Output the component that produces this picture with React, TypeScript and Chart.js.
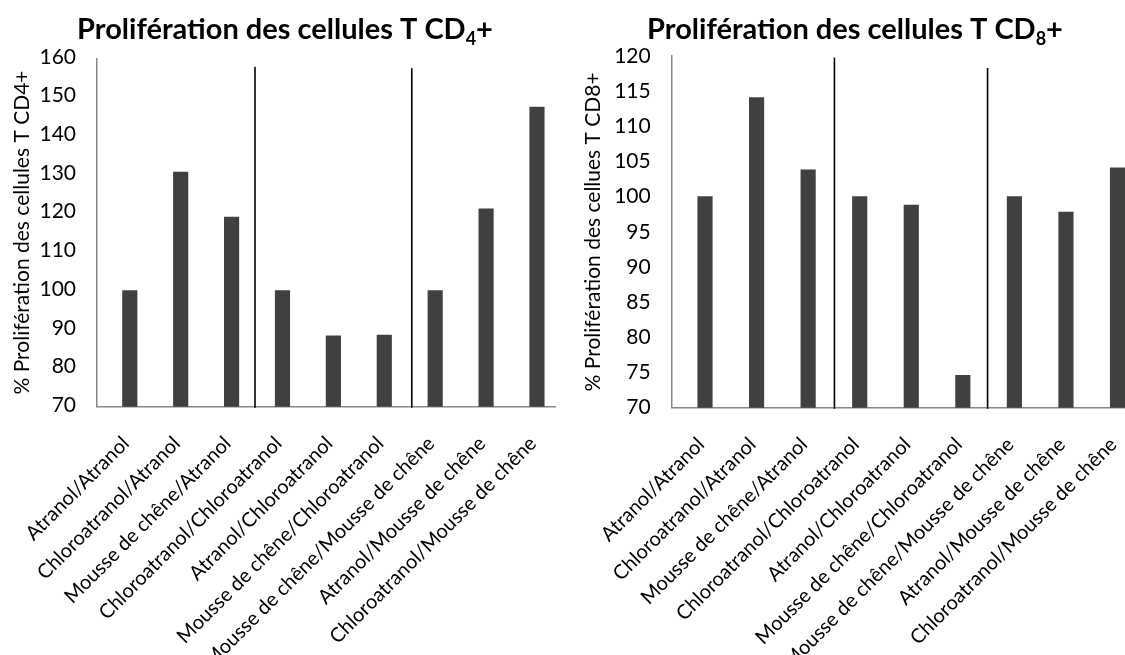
import React, { useEffect, useRef } from "react";
import { Chart, registerables } from "chart.js";
Chart.register(...registerables);

const categories = [
  "Atranol/Atranol",
  "Chloroatranol/Atranol",
  "Mousse de chêne/Atranol",
  "Chloroatranol/Chloroatranol",
  "Atranol/Chloroatranol",
  "Mousse de chêne/Chloroatranol",
  "Mousse de chêne/Mousse de chêne",
  "Atranol/Mousse de chêne",
  "Chloroatranol/Mousse de chêne",
];

const cd4Values = [100, 130.6, 119, 100, 88.3, 88.5, 100, 121.1, 147.4];
const cd8Values = [100, 114.1, 103.8, 100, 98.8, 74.6, 100, 97.8, 104.1];

const cd4YTicks = [70, 80, 90, 100, 110, 120, 130, 140, 150, 160];
const cd8YTicks = [70, 75, 80, 85, 90, 95, 100, 105, 110, 115, 120];

// group separators (category-index position) and the value where each line starts
const cd4Dividers = [2.46, 5.54];
const cd4DividerTops = [157.8, 157.4];
const cd8Dividers = [2.51, 5.48];
const cd8DividerTops = [119.8, 118.3];

const cd4Title = ["Prolifération des cellules T CD", "4", "+"];
const cd8Title = ["Prolifération des cellules T CD", "8", "+"];
const cd4AxisTitle = "% Prolifération des cellules T CD4+";
const cd8AxisTitle = "% Prolifération des cellues T CD8+";

const FONT = "Lato";

const titlePlugin = {
  id: "subTitle",
  afterDraw(chart: any, _args: any, opts: any) {
    const { ctx } = chart;
    ctx.save();
    const mainFont = `bold ${opts.size}px ${FONT}`;
    const subFont = `bold ${Math.round(opts.size * 0.62)}px ${FONT}`;
    ctx.font = mainFont;
    const w1 = ctx.measureText(opts.parts[0]).width;
    const w3 = ctx.measureText(opts.parts[2]).width;
    ctx.font = subFont;
    const w2 = ctx.measureText(opts.parts[1]).width;
    let x = opts.x - (w1 + w2 + w3) / 2;
    ctx.fillStyle = "#000";
    ctx.textAlign = "left";
    ctx.textBaseline = "alphabetic";
    ctx.font = mainFont;
    ctx.fillText(opts.parts[0], x, opts.y);
    x += w1;
    ctx.font = subFont;
    ctx.fillText(opts.parts[1], x, opts.y + opts.size * 0.22);
    x += w2;
    ctx.font = mainFont;
    ctx.fillText(opts.parts[2], x, opts.y);
    ctx.restore();
  },
};

const dividerPlugin = {
  id: "dividers",
  afterDatasetsDraw(chart: any, _args: any, opts: any) {
    const { ctx, scales, chartArea } = chart;
    ctx.save();
    ctx.strokeStyle = "#000";
    ctx.lineWidth = 1.6;
    opts.xs.forEach((v: number, i: number) => {
      const px = scales.x.getPixelForValue(v);
      const top = scales.y.getPixelForValue(opts.tops[i]);
      ctx.beginPath();
      ctx.moveTo(px, top);
      ctx.lineTo(px, chartArea.bottom + 1);
      ctx.stroke();
    });
    ctx.restore();
  },
};

function makeConfig(p: {
  values: number[];
  yTicks: number[];
  dividers: number[];
  dividerTops: number[];
  title: string[];
  axisTitle: string;
  xMin: number;
  xMax: number;
  padLeft: number;
  padRight: number;
  padTop: number;
  yWidth: number;
  xHeight: number;
  titleX: number;
  yLabelShift: number;
}): any {
  const tickFont = { family: FONT, size: 21 };
  return {
    type: "bar",
    data: {
      datasets: [
        {
          data: p.values.map((v, i) => ({ x: i, y: v })),
          backgroundColor: "#404040",
          barThickness: 14.5,
        },
      ],
    },
    plugins: [titlePlugin, dividerPlugin],
    options: {
      responsive: false,
      animation: false,
      layout: { padding: { left: p.padLeft, right: p.padRight, top: p.padTop, bottom: 0 } },
      plugins: {
        legend: { display: false },
        tooltip: { enabled: false },
        subTitle: { parts: p.title, x: p.titleX, y: 39, size: 29 },
        dividers: { xs: p.dividers, tops: p.dividerTops },
      },
      scales: {
        x: {
          type: "linear",
          bounds: "data",
          offset: false,
          min: p.xMin,
          max: p.xMax,
          grid: { display: false, drawTicks: false, offset: false },
          border: { color: "#878787", width: 1.5 },
          ticks: {
            autoSkip: false,
            maxRotation: 45,
            minRotation: 45,
            labelOffset: -4,
            padding: 25,
            color: "#000",
            font: { family: FONT, size: 20 },
            callback: (v: number) => categories[Math.round(v)] ?? "",
          },
          afterBuildTicks: (s: any) => {
            s.ticks = categories.map((_c, i) => ({ value: i }));
          },
          afterFit: (s: any) => {
            s.height = p.xHeight;
            s.paddingLeft = 0;
            s.paddingRight = 0;
          },
        },
        y: {
          type: "linear",
          min: p.yTicks[0],
          max: p.yTicks[p.yTicks.length - 1],
          grid: { display: false, drawTicks: false },
          border: { color: "#878787", width: 1.5 },
          ticks: {
            stepSize: p.yTicks[1] - p.yTicks[0],
            padding: 21,
            labelOffset: p.yLabelShift,
            color: "#000",
            font: tickFont,
          },
          title: {
            display: true,
            text: p.axisTitle,
            color: "#000",
            font: { family: FONT, size: 21 },
            padding: { top: 0, bottom: 0 },
          },
          afterFit: (s: any) => {
            s.width = p.yWidth;
          },
        },
      },
    },
  };
}

export default function App() {
  const leftRef = useRef<HTMLCanvasElement>(null);
  const rightRef = useRef<HTMLCanvasElement>(null);

  useEffect(() => {
    const left = new Chart(
      leftRef.current!,
      makeConfig({
        values: cd4Values,
        yTicks: cd4YTicks,
        dividers: cd4Dividers,
        dividerTops: cd4DividerTops,
        title: cd4Title,
        axisTitle: cd4AxisTitle,
        xMin: -0.644,
        xMax: 8.354,
        padLeft: 9.4,
        padRight: 20,
        padTop: 58.3,
        yWidth: 87.6,
        xHeight: 248.3,
        titleX: 285,
        yLabelShift: -1.5,
      })
    );
    const right = new Chart(
      rightRef.current!,
      makeConfig({
        values: cd8Values,
        yTicks: cd8YTicks,
        dividers: cd8Dividers,
        dividerTops: cd8DividerTops,
        title: cd8Title,
        axisTitle: cd8AxisTitle,
        xMin: -0.646,
        xMax: 8.436,
        padLeft: 20.4,
        padRight: 10,
        padTop: 56,
        yWidth: 91.3,
        xHeight: 247.3,
        titleX: 295,
        yLabelShift: 0,
      })
    );
    return () => {
      left.destroy();
      right.destroy();
    };
  }, []);

  return (
    <div
      style={{
        position: "fixed",
        left: 0,
        top: 0,
        width: 1125,
        height: 655,
        overflow: "hidden",
        background: "#fff",
      }}
    >
      <canvas ref={leftRef} width={575} height={655} style={{ position: "absolute", left: 0, top: 0 }} />
      <canvas ref={rightRef} width={590} height={655} style={{ position: "absolute", left: 560, top: 0 }} />
    </div>
  );
}
